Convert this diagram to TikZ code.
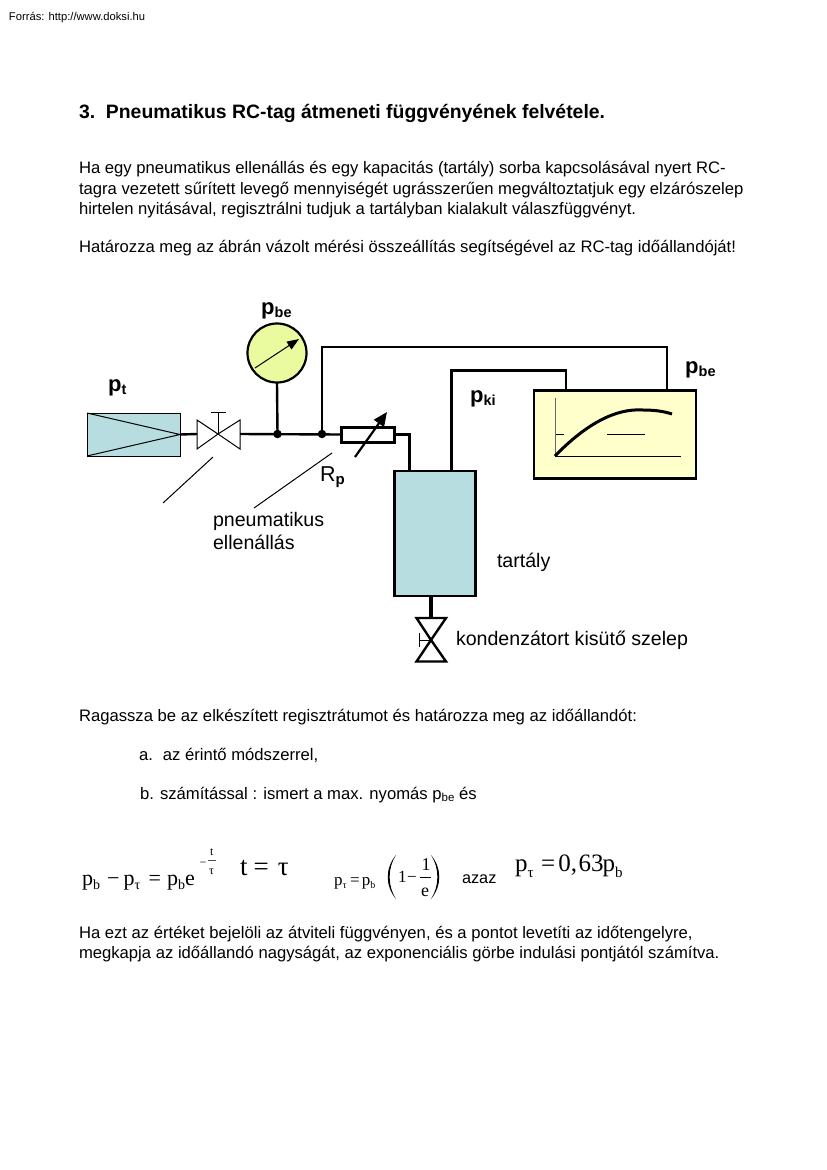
\documentclass[tikz,border=0pt]{standalone}
\usepackage{fontspec}
\setmainfont{Liberation Sans}
\newfontfamily\serifm{Liberation Serif}
\usetikzlibrary{arrows.meta}
\definecolor{tankblue}{HTML}{B7DDE0}
\definecolor{gaugey}{HTML}{E9FA9F}
\definecolor{recy}{HTML}{FFFFCC}
\newcommand{\fs}[1]{\fontsize{#1}{#1}\selectfont}
\tikzset{
  x=1pt,y=-1pt,
  txt/.style={anchor=base west,inner sep=0pt,outer sep=0pt,font=\fs{16.65}},
  big/.style={anchor=base west,inner sep=0pt,outer sep=0pt,font=\fs{19.6}},
  pipe/.style={draw=black,line width=2.4pt,line join=miter},
  thin line/.style={draw=black,line width=1pt},
  box/.style={draw=black,line width=2.2pt,inner sep=0pt,outer sep=0pt,anchor=north west},
  dot/.style={circle,fill=black,inner sep=0pt,minimum size=8.5pt,outer sep=0pt},
  plabel/.style={anchor=base west,inner sep=0pt,font=\fs{22}\bfseries},
  eq/.style={anchor=base west,inner sep=0pt,font=\serifm},
}
\newcommand{\pl}[2]{p\raisebox{-0.14em}{\fs{#1}#2}}
\newcommand{\sbs}[3]{\raisebox{-#1pt}{\fs{#2}#3}}
\begin{document}
\begin{tikzpicture}
\useasboundingbox (0,0) rectangle (827,1170);
\fill[white] (0,0) rectangle (827,1170);
% texts
\node[txt,font=\fs{11.2}] (src) at (9,20) {Forrás: http://www.doksi.hu};
\node[txt,font=\fs{19.4}\bfseries] (title) at (79,118) {3.\ \ Pneumatikus RC-tag átmeneti függvényének felvétele.};
\node[txt] (p1) at (79,173) {Ha egy pneumatikus ellenállás és egy kapacitás (tartály) sorba kapcsolásával nyert RC-};
\node[txt] (p2) at (79,194) {tagra vezetett sűrített levegő mennyiségét ugrásszerűen megváltoztatjuk egy elzárószelep};
\node[txt] (p3) at (79,214) {hirtelen nyitásával, regisztrálni tudjuk a tartályban kialakult válaszfüggvényt.};
\node[txt] (p4) at (79,252) {Határozza meg az ábrán vázolt mérési összeállítás segítségével az RC-tag időállandóját!};
\node[txt] (r1) at (79,721) {Ragassza be az elkészített regisztrátumot és határozza meg az időállandót:};
\node[txt] (ra) at (139,760) {a.\kern 10pt az érintő módszerrel,};
\node[txt] (rb) at (140,799) {b. számítással : ismert a max. nyomás p\raisebox{-0.14em}{\fs{11.5}be} és};
\node[txt] (e1) at (79,938) {Ha ezt az értéket bejelöli az átviteli függvényen, és a pontot levetíti az időtengelyre,};
\node[txt] (e2) at (79,958) {megkapja az időállandó nagyságát, az exponenciális görbe indulási pontjától számítva.};
% source tank
\node[box,fill=tankblue,line width=1pt,minimum width=93pt,minimum height=43pt] (srctank) at (87,413) {};
\draw[thin line] (srctank.north west) -- (srctank.east) -- (srctank.south west);
% main valve
\coordinate (vc) at (218,434);
\draw[thin line] (vc) -- (197,420) -- (197,449) -- cycle;
\draw[thin line] (vc) -- (240,420) -- (240,449) -- cycle;
\draw[thin line] (vc) -- (218,412);
\draw[thin line] (211,412) -- (226,412);
% pipes
\coordinate (j1) at (277.5,434);
\coordinate (j2) at (322,434);
\node[box,fill=white,line width=3pt,minimum width=53pt,minimum height=15pt] (res) at (341,427) {};
\draw[pipe] (srctank.east) -- (197,434);
\draw[pipe] (240,434) -- (res.west);
\node[box,anchor=center,circle,fill=gaugey,minimum size=59pt] (gauge) at (277,353) {};
\draw[pipe] (gauge.south) -- (j1);
\node[dot] (d1) at (j1) {};
\node[dot] (d2) at (j2) {};
\node[box,fill=recy,minimum width=162pt,minimum height=88pt] (rec) at (534,390.5) {};
\node[box,fill=tankblue,minimum width=81pt,minimum height=125pt] (tank) at (394.5,471) {};
\draw[pipe] (j2) |- (667,347) -- (667,390.5);
\draw[pipe] (res.east) -| (409.5,471);
\draw[pipe] (451.5,471) |- (566,370.5) -- (566,390.5);
% gauge needle
\draw[thin line,-{Triangle[length=12pt,width=9pt]}] (255,368) -- (299,339);
% adjustable arrow
\draw[line width=2.2pt,-{Triangle[length=14pt,width=12pt]}] (355,457) -- (387,412);
% recorder contents
\draw[draw=black!60,line width=1pt] (555.3,398) -- (555.3,456);
\draw[thin line] (555,456) -- (681,456);
\draw[thin line] (556,434.5) -- (564,434.5);
\draw[thin line] (607,434.5) -- (644.5,434.5);
\draw[line width=3pt] (555,456) .. controls (585,425) and (615,408) .. (643,410) .. controls (653,410) and (663,411) .. (672,414);
% bottom valve
\coordinate (bv) at (431,640);
\draw[line width=3.6pt] (tank.south -| bv) -- (431,618);
\draw[line width=2.4pt,line join=miter] (bv) -- (416.5,618) -- (446,618) -- cycle;
\draw[line width=2.4pt,line join=miter] (bv) -- (416.5,661.5) -- (446,661.5) -- cycle;
\draw[thin line] (bv) -- (419.5,640);
\draw[thin line] (419.5,633) -- (419.5,647);
% leaders
\draw[thin line] (213,457) -- (163,503);
\draw[thin line] (332,453) -- (254,508);
% labels
\node[plabel] (lpbe1) at (261,314) {\pl{14.5}{be}};
\node[plabel] (lpt) at (108,391) {\pl{14.5}{t}};
\node[plabel] (lpki) at (470,402) {\pl{14.5}{ki}};
\node[plabel] (lpbe2) at (685,373) {\pl{14.5}{be}};
\node[anchor=base west,inner sep=0pt,font=\fs{21.5}] (lrp) at (320,481) {R\raisebox{-0.18em}{\fs{15}\bfseries p}};
\node[big] (lpn1) at (213,526) {pneumatikus};
\node[big] (lpn2) at (213,549) {ellenállás};
\node[big] (ltar) at (497,567) {tartály};
\node[big] (lkon) at (456,645) {kondenzátort kisütő szelep};
% equations
\node[eq,font=\serifm\fs{22}] (q1) at (82,885) {p\sbs{4}{14}{b}\kern 7pt −\kern 4pt p\sbs{4}{14}{τ}\kern 8.5pt =\kern 6pt p\sbs{4}{14}{b}e};
\node[eq,font=\serifm\fs{12}] (q1a) at (199.5,866) {−};
\node[eq,font=\serifm\fs{12}] (q1b) at (210,855) {t};
\draw[draw=black!70,line width=0.6pt] (208,860) -- (216,860);
\node[eq,font=\serifm\fs{12}] (q1c) at (209,874) {τ};
\node[eq,font=\serifm\fs{27}] (q2) at (240,875) {t\kern 6pt =\kern 9pt τ};
\node[eq,font=\serifm\fs{17}] (q3) at (334,885) {p\sbs{3}{10}{τ}\kern 3.5pt =\kern 2pt p\sbs{3}{10}{b}};
\node[eq,font=\serifm\fs{17}] (q4) at (398,882) {1};
\node[eq,font=\serifm\fs{17}] (q4b) at (407,882) {−};
\node[eq,font=\serifm\fs{18}] (q5) at (421.5,870) {1};
\draw[thin line] (420,877.5) -- (431,877.5);
\node[eq,font=\serifm\fs{18}] (q6) at (421,896) {e};
\fill (396,855) .. controls (385,868) and (385,886) .. (396,899) .. controls (387.5,886) and (387.5,868) .. (396,855) -- cycle;
\fill (431,855) .. controls (442,868) and (442,886) .. (431,899) .. controls (439.5,886) and (439.5,868) .. (431,855) -- cycle;
\node[txt,font=\fs{16.3}] (qaz) at (462,883) {azaz};
\node[eq,font=\serifm\fs{25}] (q7) at (515,871) {p\sbs{6}{15}{τ}\kern 7.5pt =\kern 3pt 0,\kern 1.5pt 63\kern -1pt p\sbs{6}{15}{b}};
\end{tikzpicture}
\end{document}
